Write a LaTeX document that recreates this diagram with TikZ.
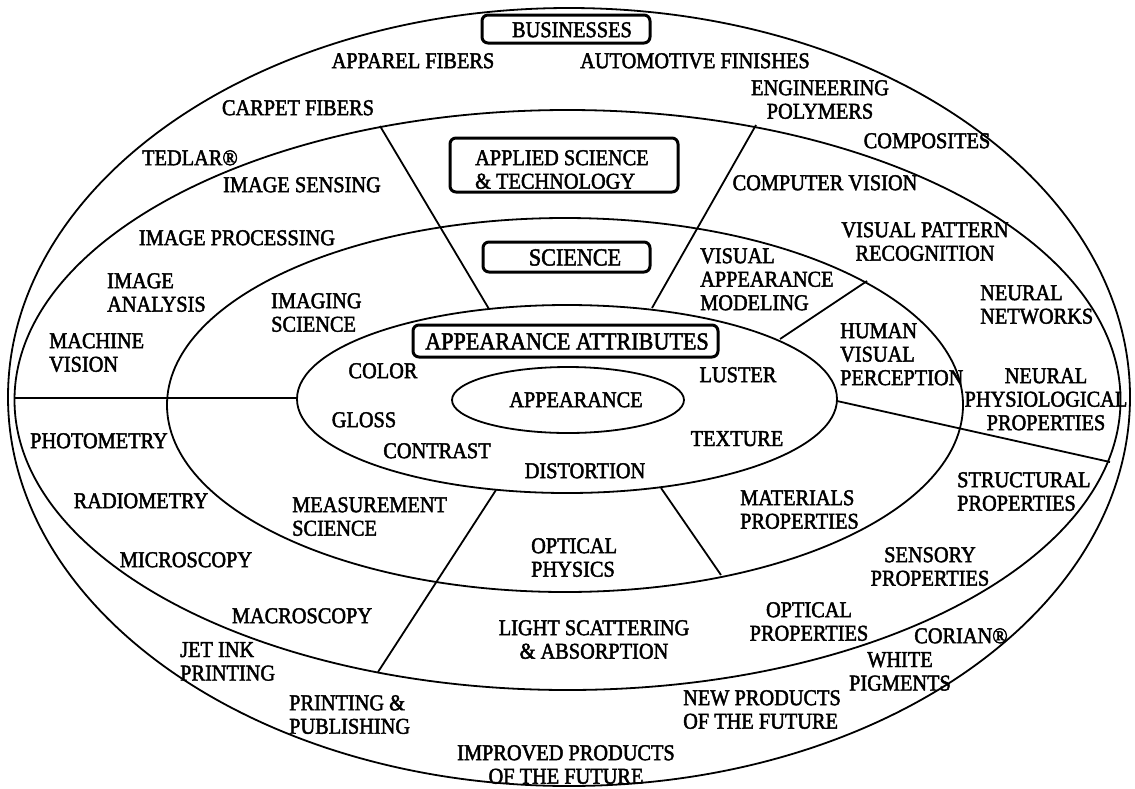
\documentclass[tikz,border=0pt]{standalone}
\usepackage{fontspec}
\setmainfont{Liberation Serif}[FakeStretch=0.9, FakeBold=2]
\newcommand\lbl{\fontsize{22.6}{23.5}\selectfont}
\newcommand\lblbig{\fontsize{24.6}{25}\selectfont}
\begin{document}
\begin{tikzpicture}[x=1pt,y=-1pt,
  ell/.style={line width=1.8pt},
  rad/.style={line width=1.8pt},
  lab/.style={inner sep=0pt, font=\lbl, align=center, anchor=north},
  labl/.style={lab, align=left, anchor=north west},
  tbox/.style={draw, line width=3pt, rounded corners=6pt, fill=white, inner sep=0pt}]
\useasboundingbox (0,0) rectangle (1135,788);
\fill[white] (0,0) rectangle (1135,788);
% rings
\draw[ell] (569,397) ellipse [x radius=561, y radius=389];
\draw[ell] (567.5,400) ellipse [x radius=553, y radius=290];
\draw[ell] (565,405) ellipse [x radius=398, y radius=187];
\draw[ell] (567,399) ellipse [x radius=270, y radius=94];
\draw[ell] (568,400) ellipse [x radius=116, y radius=33];
% line ends
\coordinate (r1a) at (489,309); \coordinate (r1b) at (380,126);
\coordinate (r2a) at (652,308); \coordinate (r2b) at (756,125);
\coordinate (r3a) at (780,339); \coordinate (r3b) at (867,281);
\coordinate (r4a) at (837,401); \coordinate (r4b) at (1110,462);
\coordinate (r5a) at (661,488); \coordinate (r5b) at (721,575);
\coordinate (r6a) at (496,490); \coordinate (r6b) at (378,672);
\coordinate (r7a) at (14,398);  \coordinate (r7b) at (297,398);
\draw[rad] (r1a) -- (r1b);
\draw[rad] (r2a) -- (r2b);
\draw[rad] (r3a) -- (r3b);
\draw[rad] (r4a) -- (r4b);
\draw[rad] (r5a) -- (r5b);
\draw[rad] (r6a) -- (r6b);
\draw[rad] (r7a) -- (r7b);
% boxes
\node[tbox, minimum width=168pt, minimum height=28pt] (busbox) at (566,29) {};
\node[tbox, minimum width=228pt, minimum height=54pt] (appbox) at (564,165) {};
\node[tbox, minimum width=167pt, minimum height=30pt] (scibox) at (566.5,257) {};
\node[tbox, minimum width=305pt, minimum height=32pt] (attbox) at (565.5,341) {};
\node[lab] (bustxt) at (572,22) {BUSINESSES};
\node[labl] (apptxt) at (475,150) {APPLIED SCIENCE\\\& TECHNOLOGY};
\node[lab, font=\lblbig] (scitxt) at (575,249) {SCIENCE};
\node[lab, font=\lblbig] (atttxt) at (567,333) {APPEARANCE ATTRIBUTES};
% outer ring
\node[lab] (apparel) at (413,53) {APPAREL FIBERS};
\node[lab] (auto) at (695,53) {AUTOMOTIVE FINISHES};
\node[lab] (carpet) at (298,100) {CARPET FIBERS};
\node[lab] (eng) at (820,80) {ENGINEERING\\POLYMERS};
\node[lab] (comp) at (927,133) {COMPOSITES};
\node[lab] (tedlar) at (190,150) {TEDLAR®};
\node[lab] (vpr) at (925,222) {VISUAL PATTERN\\RECOGNITION};
\node[labl] (nn) at (980,285) {NEURAL\\NETWORKS};
\node[lab] (npp) at (1046,368) {NEURAL\\PHYSIOLOGICAL\\PROPERTIES};
\node[labl] (struct) at (957,472) {STRUCTURAL\\PROPERTIES};
\node[lab] (sensory) at (930,547) {SENSORY\\PROPERTIES};
\node[lab] (corian) at (961,628) {CORIAN®};
\node[lab] (white) at (900,652) {WHITE\\PIGMENTS};
\node[labl] (newp) at (683,690) {NEW PRODUCTS\\OF THE FUTURE};
\node[lab] (impr) at (566,745) {IMPROVED PRODUCTS\\OF THE FUTURE};
\node[labl] (print) at (289,695) {PRINTING \&\\PUBLISHING};
\node[labl] (jet) at (180,642) {JET INK\\PRINTING};
% applied ring
\node[lab] (sens) at (302,177) {IMAGE SENSING};
\node[lab] (cv) at (825,175) {COMPUTER VISION};
\node[lab] (proc) at (237,230) {IMAGE PROCESSING};
\node[labl] (anal) at (107,273) {IMAGE\\ANALYSIS};
\node[labl] (mv) at (49,333) {MACHINE\\VISION};
\node[lab] (photo) at (99,433) {PHOTOMETRY};
\node[lab] (radio) at (141,493) {RADIOMETRY};
\node[lab] (micro) at (186,552) {MICROSCOPY};
\node[lab] (macro) at (302,608) {MACROSCOPY};
\node[lab] (light) at (594,620) {LIGHT SCATTERING\\\& ABSORPTION};
\node[lab] (optp) at (809,602) {OPTICAL\\PROPERTIES};
% science ring
\node[labl] (imsci) at (271,293) {IMAGING\\SCIENCE};
\node[labl] (vam) at (700,248) {VISUAL\\APPEARANCE\\MODELING};
\node[labl] (hvp) at (840,323) {HUMAN\\VISUAL\\PERCEPTION};
\node[labl] (meas) at (292,497) {MEASUREMENT\\SCIENCE};
\node[labl] (opt) at (531,538) {OPTICAL\\PHYSICS};
\node[labl] (mat) at (740,490) {MATERIALS\\PROPERTIES};
% attributes
\node[lab] (color) at (383,363) {COLOR};
\node[lab] (gloss) at (364,412) {GLOSS};
\node[lab] (contrast) at (437,443) {CONTRAST};
\node[lab] (distort) at (585,463) {DISTORTION};
\node[lab] (texture) at (737,431) {TEXTURE};
\node[lab] (luster) at (738,367) {LUSTER};
\node[lab] (appear) at (576,392) {APPEARANCE};
\end{tikzpicture}
\end{document}
